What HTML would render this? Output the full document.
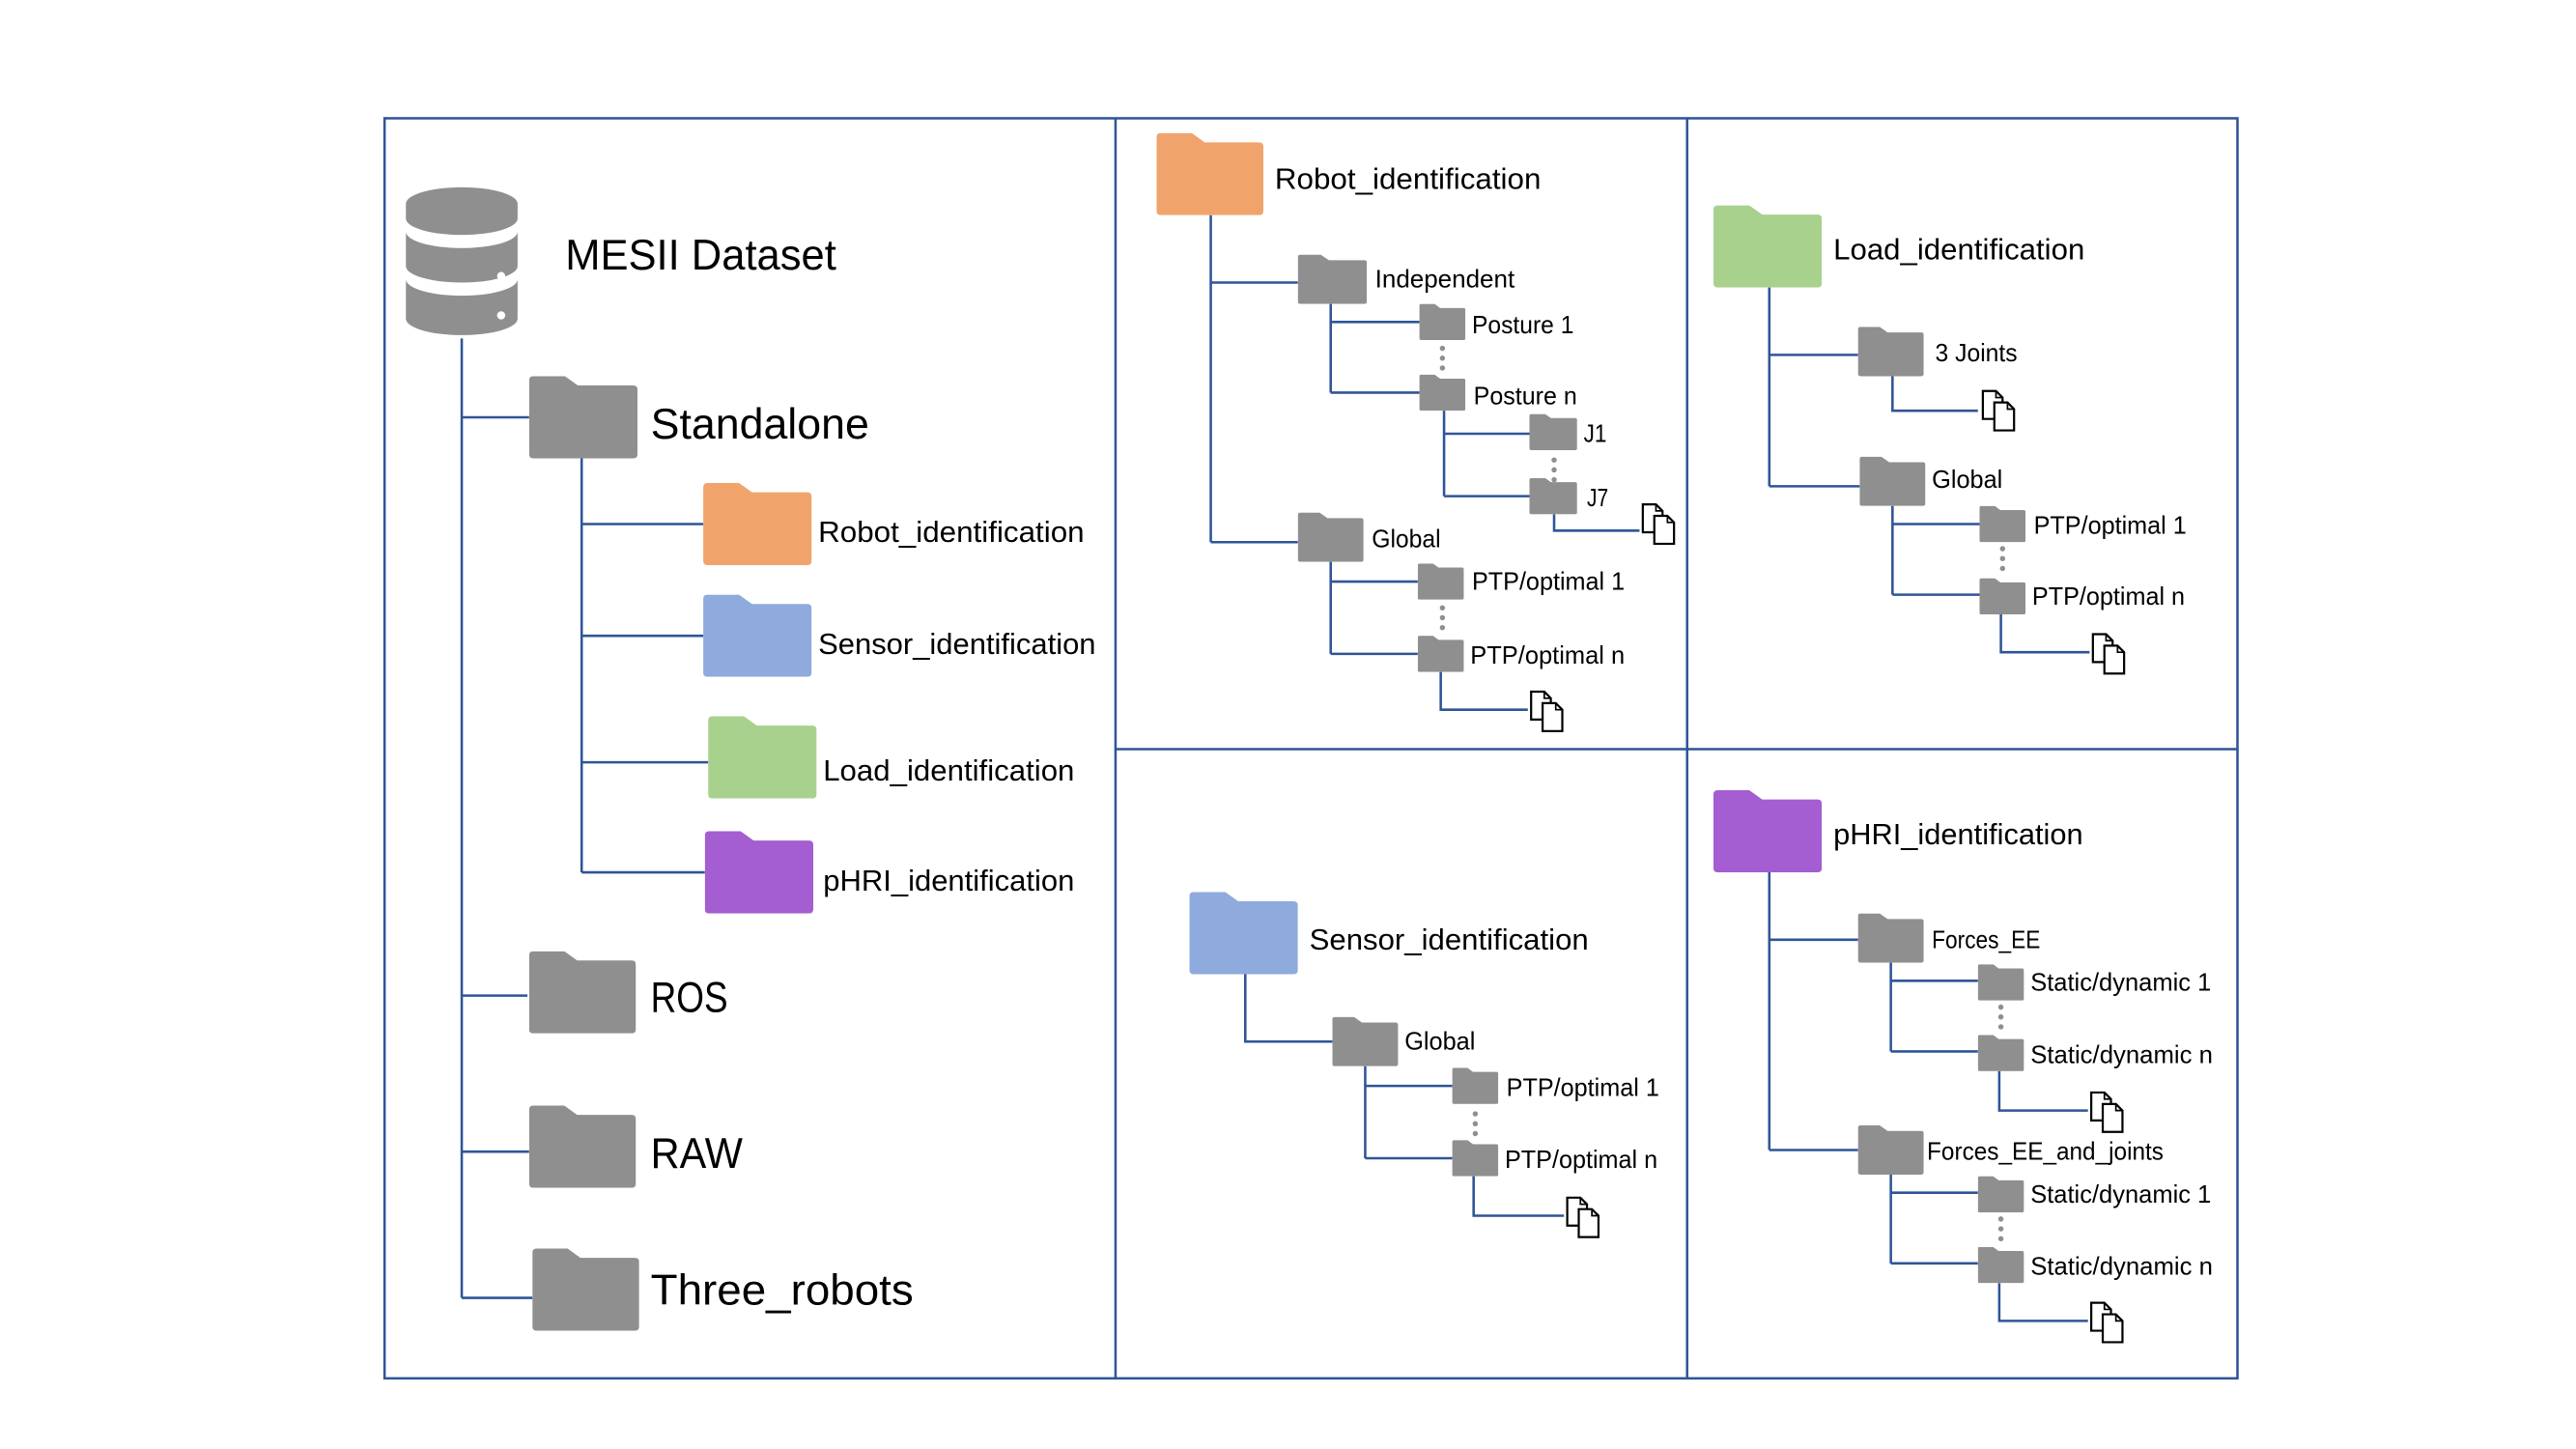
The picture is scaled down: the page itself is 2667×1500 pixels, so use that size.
<!DOCTYPE html>
<html><head><meta charset="utf-8"><style>
html,body{margin:0;padding:0;background:#fff;}
svg{display:block;}
text{font-family:"Liberation Sans",sans-serif;fill:#000;}
</style></head><body>
<svg width="2667" height="1500" viewBox="0 0 1568 882" xmlns="http://www.w3.org/2000/svg">
<defs>
<symbol id="f" viewBox="0 0 100 80" preserveAspectRatio="none">
<path d="M4,0 H33 L45,9 H96 Q100,9 100,13 V76 Q100,80 96,80 H4 Q0,80 0,76 V4 Q0,0 4,0Z"/>
</symbol>
<symbol id="d" viewBox="0 0 22 26">
<path d="M1,1 H9 L13,5 V18 H1Z" fill="#fff" stroke="#000" stroke-width="1.3"/>
<path d="M8,8 H16 L20,12 V25 H8Z" fill="#fff" stroke="#000" stroke-width="1.3"/>
<path d="M9,1 V5 H13 M16,8 V12 H20" fill="none" stroke="#000" stroke-width="1"/>
</symbol>
</defs>
<rect width="1568" height="882" fill="#fff"/>
<g fill="none" stroke="#2f5597" stroke-width="1.5">
<rect x="234" y="72" width="1128" height="767"/>
<path d="M679,72V839 M1027,72V839 M679,456H1362"/>
<!-- left -->
<path d="M281,206V790 M281,254H322 M281,606H321 M281,701H322 M281,790H324"/>
<path d="M354,279V531 M354,319H428 M354,387H428 M354,464H431 M354,531H429"/>
<!-- top middle -->
<path d="M737,131V330 M737,172H790 M737,330H790"/>
<path d="M810,185V239 M810,196H864 M810,239H864"/>
<path d="M879,250V302 M879,264H931 M879,302H931"/>
<path d="M946,313V323H998"/>
<path d="M810,342V398 M810,354H863 M810,398H863"/>
<path d="M877,409V432H930"/>
<!-- top right -->
<path d="M1077,175V296 M1077,216H1131 M1077,296H1132"/>
<path d="M1152,229V250H1204"/>
<path d="M1152,308V362 M1152,319H1205 M1152,362H1205"/>
<path d="M1218,374V397H1272"/>
<!-- bottom middle -->
<path d="M758,593V634H811"/>
<path d="M831,649V705 M831,661H884 M831,705H884"/>
<path d="M897,716V740H952"/>
<!-- bottom right -->
<path d="M1077,531V700 M1077,572H1131 M1077,700H1131"/>
<path d="M1151,586V640 M1151,597H1204 M1151,640H1204"/>
<path d="M1217,652V676H1271"/>
<path d="M1151,715V769 M1151,726H1204 M1151,769H1204"/>
<path d="M1217,781V804H1271"/>
</g>
<!-- database -->
<g fill="#8f8f8f">
<path d="M247,124 A34,10 0 0 1 315,124 V133 A34,10 0 0 1 247,133Z"/>
<path d="M247,141 A34,10 0 0 0 315,141 V162 A34,10 0 0 1 247,162Z"/>
<path d="M247,170 A34,10 0 0 0 315,170 V194 A34,10 0 0 1 247,194Z"/>
</g>
<g fill="#fff"><circle cx="305" cy="145" r="2.5"/><circle cx="305" cy="168" r="2.5"/><circle cx="305" cy="192" r="2.5"/></g>
<!-- dots -->
<g fill="#8f8f8f">
<circle cx="878" cy="212" r="1.6"/><circle cx="878" cy="218" r="1.6"/><circle cx="878" cy="224" r="1.6"/>
<circle cx="946" cy="280" r="1.6"/><circle cx="946" cy="286" r="1.6"/><circle cx="946" cy="292" r="1.6"/>
<circle cx="878" cy="370" r="1.6"/><circle cx="878" cy="376" r="1.6"/><circle cx="878" cy="382" r="1.6"/>
<circle cx="1219" cy="334" r="1.6"/><circle cx="1219" cy="340" r="1.6"/><circle cx="1219" cy="346" r="1.6"/>
<circle cx="898" cy="678" r="1.6"/><circle cx="898" cy="684" r="1.6"/><circle cx="898" cy="690" r="1.6"/>
<circle cx="1218" cy="613" r="1.6"/><circle cx="1218" cy="619" r="1.6"/><circle cx="1218" cy="625" r="1.6"/>
<circle cx="1218" cy="742" r="1.6"/><circle cx="1218" cy="748" r="1.6"/><circle cx="1218" cy="754" r="1.6"/>
</g>
<!-- folders -->
<g fill="#8f8f8f">
<use href="#f" x="322" y="229" width="66" height="50"/>
<use href="#f" x="322" y="579" width="65" height="50"/>
<use href="#f" x="322" y="673" width="65" height="50"/>
<use href="#f" x="324" y="760" width="65" height="50"/>
<use href="#f" x="790" y="155" width="42" height="30"/>
<use href="#f" x="864" y="185" width="28" height="22"/>
<use href="#f" x="864" y="228" width="28" height="22"/>
<use href="#f" x="931" y="252" width="29" height="22"/>
<use href="#f" x="931" y="291" width="29" height="22"/>
<use href="#f" x="790" y="312" width="40" height="30"/>
<use href="#f" x="863" y="343" width="28" height="22"/>
<use href="#f" x="863" y="387" width="28" height="22"/>
<use href="#f" x="1131" y="199" width="40" height="30"/>
<use href="#f" x="1132" y="278" width="40" height="30"/>
<use href="#f" x="1205" y="308" width="28" height="22"/>
<use href="#f" x="1205" y="352" width="28" height="22"/>
<use href="#f" x="811" y="619" width="40" height="30"/>
<use href="#f" x="884" y="650" width="28" height="22"/>
<use href="#f" x="884" y="694" width="28" height="22"/>
<use href="#f" x="1131" y="556" width="40" height="30"/>
<use href="#f" x="1204" y="587" width="28" height="22"/>
<use href="#f" x="1204" y="630" width="28" height="22"/>
<use href="#f" x="1131" y="685" width="40" height="30"/>
<use href="#f" x="1204" y="716" width="28" height="22"/>
<use href="#f" x="1204" y="759" width="28" height="22"/>
</g>
<use href="#f" x="428" y="294" width="66" height="50" fill="#f0a46c"/>
<use href="#f" x="428" y="362" width="66" height="50" fill="#8faadc"/>
<use href="#f" x="431" y="436" width="66" height="50" fill="#a9d18e"/>
<use href="#f" x="429" y="506" width="66" height="50" fill="#a45ed1"/>
<use href="#f" x="704" y="81" width="65" height="50" fill="#f0a46c"/>
<use href="#f" x="1043" y="125" width="66" height="50" fill="#a9d18e"/>
<use href="#f" x="724" y="543" width="66" height="50" fill="#8faadc"/>
<use href="#f" x="1043" y="481" width="66" height="50" fill="#a45ed1"/>
<!-- docs -->
<use href="#d" x="999" y="306" width="22" height="26"/>
<use href="#d" x="931" y="420" width="22" height="26"/>
<use href="#d" x="1206" y="237" width="22" height="26"/>
<use href="#d" x="1273" y="385" width="22" height="26"/>
<use href="#d" x="953" y="728" width="22" height="26"/>
<use href="#d" x="1272" y="664" width="22" height="26"/>
<use href="#d" x="1272" y="792" width="22" height="26"/>
<!-- text -->
<g lengthAdjust="spacingAndGlyphs">
<text x="344" y="164" font-size="26" textLength="165" lengthAdjust="spacingAndGlyphs">MESII Dataset</text>
<text x="396" y="267" font-size="26" textLength="133" lengthAdjust="spacingAndGlyphs">Standalone</text>
<text x="498" y="330" font-size="18" textLength="162" lengthAdjust="spacingAndGlyphs">Robot_identification</text>
<text x="498" y="398" font-size="18" textLength="169" lengthAdjust="spacingAndGlyphs">Sensor_identification</text>
<text x="501" y="475" font-size="18" textLength="153" lengthAdjust="spacingAndGlyphs">Load_identification</text>
<text x="501" y="542" font-size="18" textLength="153" lengthAdjust="spacingAndGlyphs">pHRI_identification</text>
<text x="396" y="616" font-size="26" textLength="47" lengthAdjust="spacingAndGlyphs">ROS</text>
<text x="396" y="711" font-size="26" textLength="56" lengthAdjust="spacingAndGlyphs">RAW</text>
<text x="396" y="794" font-size="26" textLength="160" lengthAdjust="spacingAndGlyphs">Three_robots</text>

<text x="776" y="115" font-size="18" textLength="162" lengthAdjust="spacingAndGlyphs">Robot_identification</text>
<text x="837" y="175" font-size="15" textLength="85" lengthAdjust="spacingAndGlyphs">Independent</text>
<text x="896" y="203" font-size="15" textLength="62" lengthAdjust="spacingAndGlyphs">Posture 1</text>
<text x="897" y="246" font-size="15" textLength="63" lengthAdjust="spacingAndGlyphs">Posture n</text>
<text x="964" y="269" font-size="15" textLength="14" lengthAdjust="spacingAndGlyphs">J1</text>
<text x="966" y="308" font-size="15" textLength="13" lengthAdjust="spacingAndGlyphs">J7</text>
<text x="835" y="333" font-size="15" textLength="42" lengthAdjust="spacingAndGlyphs">Global</text>
<text x="896" y="359" font-size="15" textLength="93" lengthAdjust="spacingAndGlyphs">PTP/optimal 1</text>
<text x="895" y="404" font-size="15" textLength="94" lengthAdjust="spacingAndGlyphs">PTP/optimal n</text>

<text x="1116" y="158" font-size="18" textLength="153" lengthAdjust="spacingAndGlyphs">Load_identification</text>
<text x="1178" y="220" font-size="15" textLength="50" lengthAdjust="spacingAndGlyphs">3 Joints</text>
<text x="1176" y="297" font-size="15" textLength="43" lengthAdjust="spacingAndGlyphs">Global</text>
<text x="1238" y="325" font-size="15" textLength="93" lengthAdjust="spacingAndGlyphs">PTP/optimal 1</text>
<text x="1237" y="368" font-size="15" textLength="93" lengthAdjust="spacingAndGlyphs">PTP/optimal n</text>

<text x="797" y="578" font-size="18" textLength="170" lengthAdjust="spacingAndGlyphs">Sensor_identification</text>
<text x="855" y="639" font-size="15" textLength="43" lengthAdjust="spacingAndGlyphs">Global</text>
<text x="917" y="667" font-size="15" textLength="93" lengthAdjust="spacingAndGlyphs">PTP/optimal 1</text>
<text x="916" y="711" font-size="15" textLength="93" lengthAdjust="spacingAndGlyphs">PTP/optimal n</text>

<text x="1116" y="514" font-size="18" textLength="152" lengthAdjust="spacingAndGlyphs">pHRI_identification</text>
<text x="1176" y="577" font-size="15" textLength="66" lengthAdjust="spacingAndGlyphs">Forces_EE</text>
<text x="1236" y="603" font-size="15" textLength="110" lengthAdjust="spacingAndGlyphs">Static/dynamic 1</text>
<text x="1236" y="647" font-size="15" textLength="111" lengthAdjust="spacingAndGlyphs">Static/dynamic n</text>
<text x="1173" y="706" font-size="15" textLength="144" lengthAdjust="spacingAndGlyphs">Forces_EE_and_joints</text>
<text x="1236" y="732" font-size="15" textLength="110" lengthAdjust="spacingAndGlyphs">Static/dynamic 1</text>
<text x="1236" y="776" font-size="15" textLength="111" lengthAdjust="spacingAndGlyphs">Static/dynamic n</text>
</g>
</svg>
</body></html>
